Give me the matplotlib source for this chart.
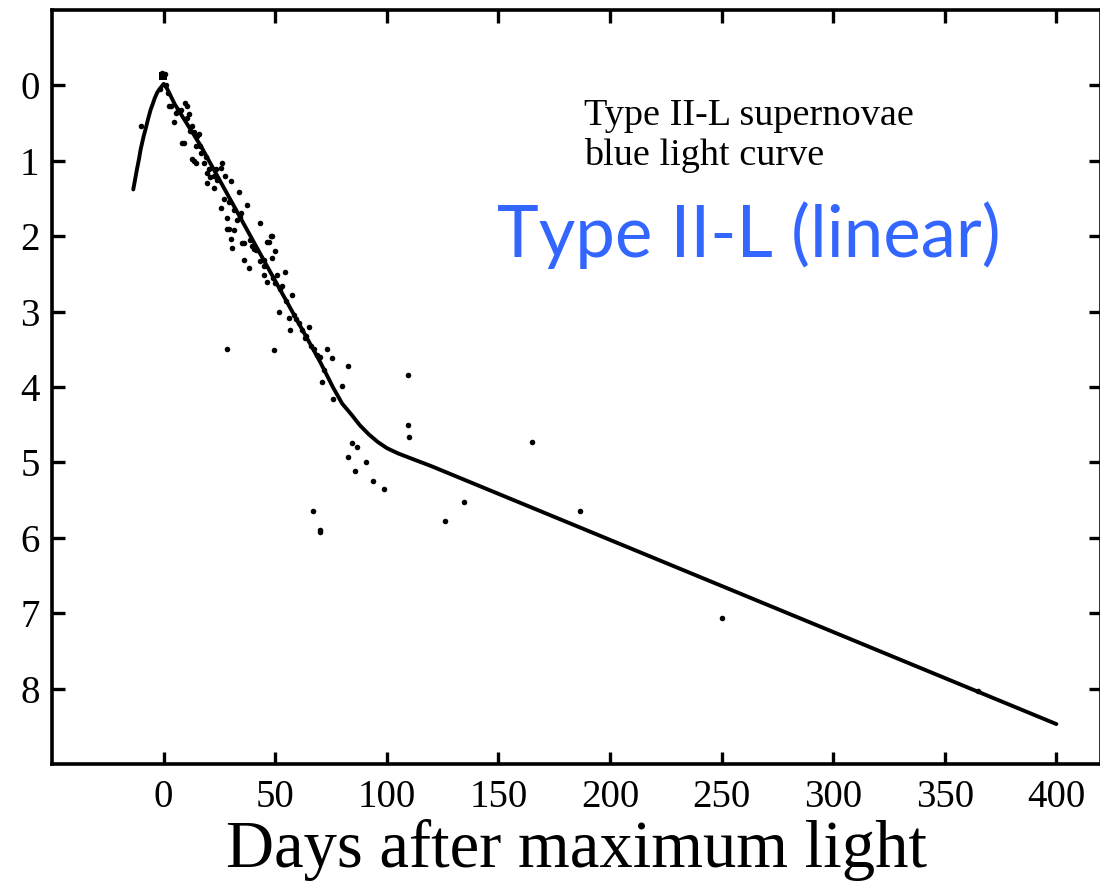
import matplotlib
matplotlib.use("Agg")
import matplotlib.pyplot as plt
import numpy as np

# smooth fit through the light curve (days, magnitudes below peak)
curve_days = [-13.6, -12.8, -12, -11, -10.3, -9, -8, -7, -5.8, -4.8, -4, -2.8, -1.3, 0,
              1.5, 5, 16.6, 46.4, 70, 76, 80, 84, 88, 92, 96, 100, 105, 112, 120, 400]
curve_mag = [1.38, 1.25, 1.12, 0.97, 0.85, 0.68, 0.57, 0.45, 0.32, 0.24, 0.17, 0.09, 0.03,
             -0.02, 0.04, 0.25, 0.80, 2.40, 3.66, 4.01, 4.22, 4.36, 4.51, 4.63, 4.73,
             4.81, 4.88, 4.96, 5.05, 8.47]

# individual observations
obs_days = [-0.8, 0.4, -10.3, 2.4, 3.1, 4.6, 5.4, 7.6, 8.4, 9.1, 9.8, 10.6, 10.6, 11.3,
            12.8, 12.8, 13.6, 13.6, 14.3, 14.3, 15.1, 15.8, 16.3, 16.6, 18.0, 19.6,
            19.6, 20.3, 21.0, 22.5, 22.5, 23.3, 25.5, 25.5, 26.3, 27.0, 27.7, 28.5,
            28.5, 29.2, 30.0, 30.0, 30.7, 31.5, 31.5, 33.0, 33.7, 34.5, 35.2, 36.0,
            36.0, 37.4, 38.2, 39.7, 40.4, 43.4, 43.4, 44.9, 44.9, 44.9, 46.4, 46.4,
            47.1, 47.9, 48.6, 48.6, 48.9, 50.1, 50.1, 50.9, 51.6, 53.0, 54.6, 56.1,
            56.8, 57.3, 58.5, 60.5, 62.0, 63.2, 65.3, 66.0, 68.8, 70.2, 71.0, 73.2,
            75.5, 75.9, 80.0, 82.5, 28.5, 49.4, 66.8, 70.2, 70.2, 82.5, 84.4, 85.6,
            86.7, 90.8, 93.6, 98.9, 109.3, 109.3, 110.1, 126.2, 134.4, 165.1, 186.6,
            250.4, 364.8,
            6.5, 12.0, 18.8, 24.0, 29.5, 34.0, 38.8, 41.5, 52.0, 55.0, 59.5, 64.0,
            67.5, 72.0, -1.5, 1.0, 2.0]
obs_mag = [-0.17, -0.15, 0.54, 0.27, 0.27, 0.49, 0.36, 0.32, 0.76, 0.76, 0.23, 0.27,
           0.43, 0.38, 0.54, 0.98, 1.00, 0.62, 0.80, 1.03, 0.67, 0.65, 0.80, 0.89,
           1.03, 1.16, 1.29, 1.11, 1.22, 1.20, 1.36, 1.11, 1.09, 1.62, 1.03, 1.51,
           1.20, 1.76, 1.91, 1.90, 1.27, 2.04, 2.15, 1.92, 1.65, 1.78, 1.42, 1.69,
           2.09, 2.09, 2.32, 1.58, 2.42, 2.13, 2.17, 1.82, 2.33, 2.31, 2.40, 2.52,
           2.08, 2.61, 2.08, 2.00, 2.00, 2.29, 2.55, 2.20, 2.62, 2.51, 3.00, 2.66,
           2.48, 3.09, 3.24, 2.78, 3.05, 3.15, 3.25, 3.35, 3.21, 3.45, 3.57, 3.60,
           3.93, 3.49, 3.62, 4.16, 3.98, 3.72, 3.50, 3.51, 5.65, 5.89, 5.92, 4.93,
           4.74, 5.12, 4.79, 4.99, 5.25, 5.35, 3.84, 4.51, 4.66, 5.78, 5.53, 4.73,
           5.65, 7.06, 8.03,
           0.33, 0.60, 0.95, 1.25, 1.55, 1.75, 2.05, 2.18, 2.70, 2.86, 3.10, 3.32,
           3.50, 3.77, 0.05, 0.0, 0.10]

x_ticks = [0, 50, 100, 150, 200, 250, 300, 350, 400]
y_ticks = [0, 1, 2, 3, 4, 5, 6, 7, 8]

fig = plt.figure(figsize=(11, 8.85), dpi=100)
ax = fig.add_axes([0.0473, 0.1367, 0.9536, 0.852])

serif = "Liberation Serif"

ax.plot(curve_days, curve_mag, color="black", lw=2.8, solid_capstyle="round",
        solid_joinstyle="round")
ax.scatter(obs_days, obs_mag, s=16, color="black", linewidths=0, zorder=3)
# brightest point near maximum drawn as a bigger square
ax.scatter([-0.3], [-0.13], s=32, marker="s", color="black", linewidths=0, zorder=3)

ax.set_xlim(-50, 420)
ax.set_ylim(9, -1)
ax.set_xticks(x_ticks)
ax.set_yticks(y_ticks)
ax.tick_params(direction="in", length=9, width=2.4, top=True, right=True,
               labelsize=28, pad=9)
ax.tick_params(axis="x", pad=11)
for lab in ax.get_xticklabels() + ax.get_yticklabels():
    lab.set_fontfamily(serif)
for sp in ax.spines.values():
    sp.set_linewidth(2.6)

ax.set_xlabel("Days after maximum light", fontsize=48, fontfamily=serif, labelpad=2)

ax.text(188.4, 0.17, "Type II-L supernovae\nblue light curve", fontsize=27.5,
        fontfamily=serif, va="top", ha="left", linespacing=1.2)
ax.text(149.4, 2.27, "Type II-L (linear)", fontsize=51, fontfamily="Lato",
        color="#3366ff", va="baseline", ha="left")

fig.savefig("out.png", dpi=100)
